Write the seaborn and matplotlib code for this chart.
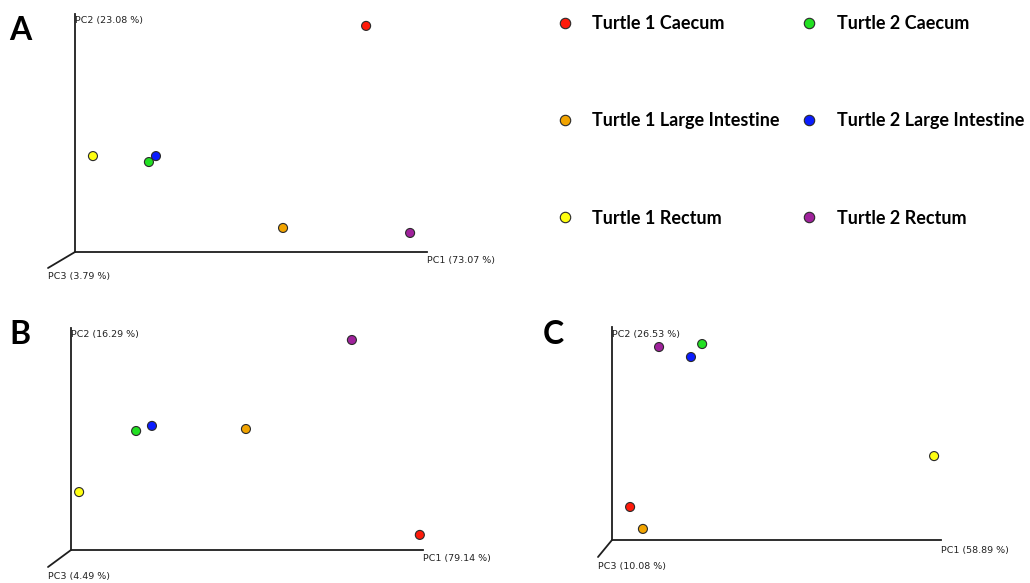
import matplotlib
matplotlib.use("Agg")
import matplotlib.pyplot as plt
import seaborn as sns
import pandas as pd
from matplotlib.lines import Line2D

# ---------------- data ----------------
samples = ["Turtle 1 Caecum", "Turtle 1 Large Intestine", "Turtle 1 Rectum",
           "Turtle 2 Caecum", "Turtle 2 Large Intestine", "Turtle 2 Rectum"]
colors = ["#ff1a0a", "#f2a400", "#ffff10", "#22e022", "#0a1cff", "#a0229c"]

# PC1 / PC2 scores, read as a fraction of the drawn axis length
a_pc1 = [0.827, 0.591, 0.051, 0.210, 0.230, 0.952]
a_pc2 = [0.950, 0.101, 0.403, 0.378, 0.403, 0.080]
b_pc1 = [0.991, 0.497, 0.023, 0.185, 0.230, 0.798]
b_pc2 = [0.068, 0.545, 0.261, 0.536, 0.559, 0.946]
c_pc1 = [0.055, 0.094, 0.979, 0.274, 0.240, 0.143]
c_pc2 = [0.155, 0.052, 0.394, 0.920, 0.859, 0.906]

a_labels = ["PC1 (73.07 %)", "PC2 (23.08 %)", "PC3 (3.79 %)"]
b_labels = ["PC1 (79.14 %)", "PC2 (16.29 %)", "PC3 (4.49 %)"]
c_labels = ["PC1 (58.89 %)", "PC2 (26.53 %)", "PC3 (10.08 %)"]
panel_letters = ["A", "B", "C"]

palette = dict(zip(samples, colors))

# ---------------- figure ----------------
sns.set_style("white")
plt.rcParams["font.family"] = ["DejaVu Sans"]
W, H = 1030, 583
fig = plt.figure(figsize=(W / 100, H / 100), dpi=100)
fig.patch.set_facecolor("white")

# panel geometry in pixels: origin (x, y from top), x length, y length, pc3 end
panels = [
    dict(o=(75, 252), xl=352, yl=238, p3=(48, 268), pc1=a_pc1, pc2=a_pc2,
         labels=a_labels, letter=(20, 30), lab_off=(8, 8, 6)),
    dict(o=(71, 550), xl=352, yl=222, p3=(48, 567), pc1=b_pc1, pc2=b_pc2,
         labels=b_labels, letter=(20, 335), lab_off=(8, 9, 7)),
    dict(o=(612, 540), xl=329, yl=213, p3=(598, 557), pc1=c_pc1, pc2=c_pc2,
         labels=c_labels, letter=(553, 335), lab_off=(10, 10, 8)),
]

axis_col = "#1e1e1e"
for i, p in enumerate(panels):
    ox, oy = p["o"]
    ax = fig.add_axes([ox / W, (H - oy) / H, p["xl"] / W, p["yl"] / H])
    ax.set_xlim(0, 1)
    ax.set_ylim(0, 1)
    df = pd.DataFrame({"PC1": p["pc1"], "PC2": p["pc2"], "Sample": samples})
    sns.scatterplot(data=df, x="PC1", y="PC2", hue="Sample", palette=palette,
                    s=42, edgecolor="#2a2a2a", linewidth=0.8, legend=False,
                    ax=ax, clip_on=False, zorder=3)
    ax.set_xlabel("")
    ax.set_ylabel("")
    ax.set_xticks([])
    ax.set_yticks([])
    for s in ["top", "right"]:
        ax.spines[s].set_visible(False)
    for s in ["left", "bottom"]:
        ax.spines[s].set_color(axis_col)
        ax.spines[s].set_linewidth(1.3)
    ax.set_facecolor("none")
    # PC3 axis (diagonal)
    px, py = p["p3"]
    dx = (px - ox) / p["xl"]
    dy = -(py - oy) / p["yl"]
    ax.plot([0, dx], [0, dy], color=axis_col, lw=1.3, transform=ax.transAxes,
            clip_on=False)
    fs = 6.8
    ax.annotate(p["labels"][0], xy=(1, 0), xycoords="axes fraction",
                xytext=(0, -p["lab_off"][0]), textcoords="offset pixels",
                ha="left", va="center", fontsize=fs, color="#222222")
    ax.annotate(p["labels"][2], xy=(dx, dy), xycoords="axes fraction",
                xytext=(0, -p["lab_off"][1]), textcoords="offset pixels",
                ha="left", va="center", fontsize=fs, color="#222222")
    ax.annotate(p["labels"][1], xy=(0, 1), xycoords="axes fraction",
                xytext=(0, -p["lab_off"][2]), textcoords="offset pixels",
                ha="left", va="center", fontsize=fs, color="#222222")
    lx, ly = p["letter"]
    fig.text(lx / W, 1 - ly / H, panel_letters[i], fontsize=23,
             fontweight="bold", family=["Lato", "DejaVu Sans"],
             ha="center", va="center", color="black")

# ---------------- legend ----------------
handles = [Line2D([], [], marker="o", linestyle="none", markersize=7.5,
                  markerfacecolor=c, markeredgecolor="#2a2a2a",
                  markeredgewidth=0.8) for c in colors]
leg = fig.legend(handles, samples, loc="upper left",
                 bbox_to_anchor=(547 / W, 1 - 6 / H), ncol=2, frameon=False,
                 prop=dict(family=["Lato", "DejaVu Sans"], weight="bold",
                           size=13),
                 labelspacing=4.45, handletextpad=1.0, columnspacing=1.15,
                 handlelength=1.0, borderpad=0)
for t in leg.get_texts():
    t.set_color("black")

fig.savefig("out.png", dpi=100, facecolor="white")
